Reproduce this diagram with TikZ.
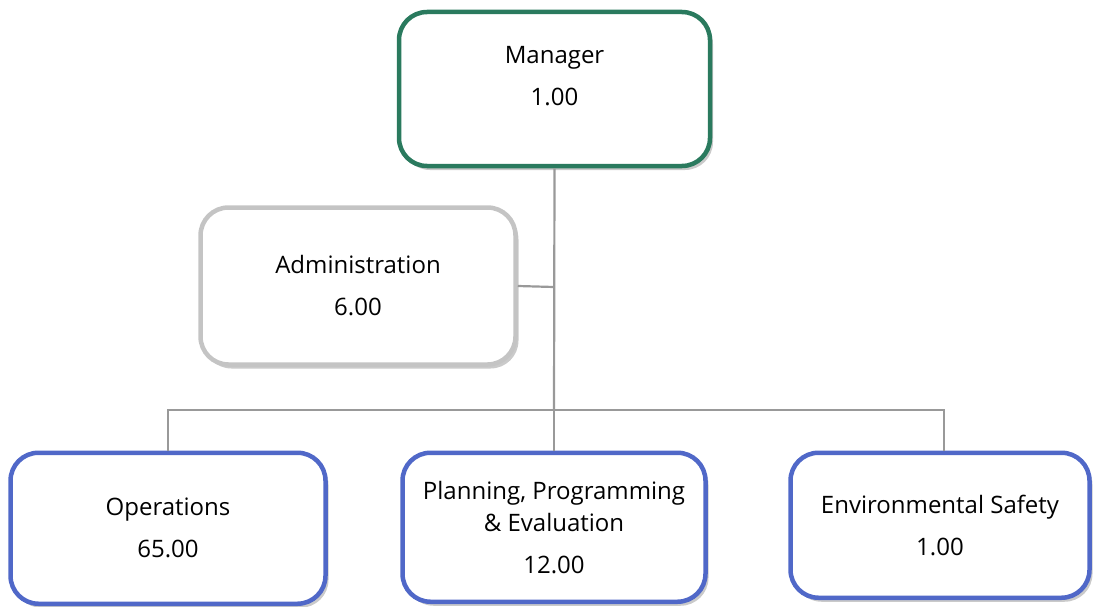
\documentclass[tikz,border=0pt]{standalone}
\usepackage{fontspec}
\setmainfont{Open Sans}
\usetikzlibrary{positioning,shadows}

\definecolor{mgrgreen}{HTML}{2A7A5E}
\definecolor{unitblue}{HTML}{5068C8}
\definecolor{staffgray}{HTML}{C4C4C4}
\definecolor{linegray}{HTML}{999999}

\begin{document}
\begin{tikzpicture}[x=1pt, y=1pt,
      every node/.style={font=\fontsize{24}{32}\selectfont, align=center},
      box/.style={draw, line width=4.5pt, rounded corners=28pt, fill=white,
                  drop shadow={shadow xshift=3pt, shadow yshift=-4pt,
                               opacity=.35, fill=black!60}},
      head/.style={box, draw=mgrgreen},
      staff/.style={box, draw=staffgray},
      unit/.style={box, draw=unitblue, anchor=north},
      link/.style={draw=linegray, line width=2.2pt},
  ]
    \useasboundingbox (0,0) rectangle (1094,-607);

    % top and staff boxes
    \node[head, minimum width=311pt, minimum height=154pt, text depth=26pt]
      (mgr) at (554.5,-89) {Manager\\[10pt]1.00};
    \node[staff, minimum width=315pt, minimum height=157pt]
      (admin) at (358,-286) {Administration\\[10pt]6.00};

    % units
    \node[unit, minimum width=315pt, minimum height=151pt]
      (ops) at (168,-450.5) {Operations\\[10pt]65.00};
    \node[unit, minimum width=303pt, minimum height=149pt]
      (ppe) at (554,-450.5) {Planning, Programming\\\& Evaluation\\[10pt]12.00};
    \node[unit, minimum width=299pt, minimum height=145pt]
      (env) at (940,-450.5) {Environmental Safety\\[10pt]1.00};

    % connectors
    \coordinate (bar) at (554,-410);
    \coordinate (tap) at (554,-287);
    \path[link] (mgr.south) -- (bar);
    \path[link] (admin.east) -- (tap);
    \path[link] (bar) -| (ops.north);
    \path[link] (bar) -- (ppe.north);
    \path[link] (bar) -| ([xshift=4pt]env.north);
  \end{tikzpicture}
\end{document}
